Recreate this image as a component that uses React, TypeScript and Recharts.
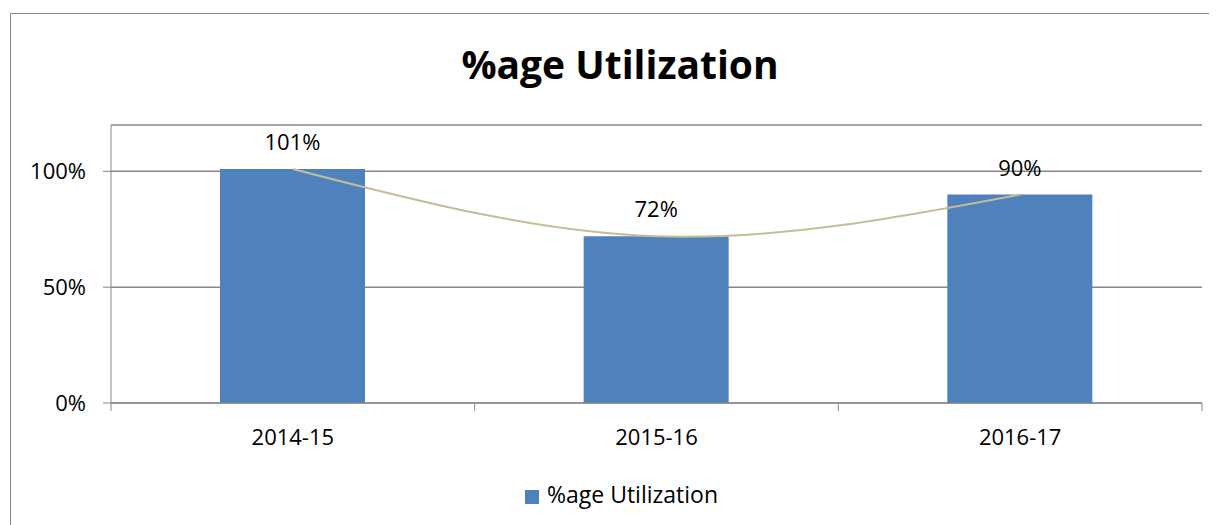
import {
  ComposedChart,
  Bar,
  Line,
  XAxis,
  YAxis,
  CartesianGrid,
  Legend,
  LabelList,
} from "recharts";

const years = ["2014-15", "2015-16", "2016-17"];
const utilization = [1.01, 0.72, 0.9];
const yTicks = [0, 0.5, 1];

const data = years.map((year, i) => ({ year, utilization: utilization[i] }));

const FONT = "'Open Sans', sans-serif";
const GRAY = "#868686";
const W = 1206;
const H = 511;
const margin = { top: 111, right: 15, left: 40, bottom: 13 };
const Y_AXIS_W = 60;
const band = (W - margin.left - Y_AXIS_W - margin.right) / years.length;

const pct = (v: number) => `${Math.round(v * 100)}%`;

// category label plus a tick mark on the category boundaries
const XTick = (props: any) => {
  const { x, y, payload, index } = props;
  const axisY = y - 26;
  return (
    <g>
      <line x1={x - band / 2} x2={x - band / 2} y1={axisY} y2={axisY + 8} stroke={GRAY} />
      {index === years.length - 1 && (
        <line x1={x + band / 2} x2={x + band / 2} y1={axisY} y2={axisY + 8} stroke={GRAY} />
      )}
      <text x={x} y={y} dy="0.71em" textAnchor="middle" fill="#000" fontSize={22} fontFamily={FONT}>
        {payload.value}
      </text>
    </g>
  );
};

const App = () => {
  return (
    <div
      style={{
        position: "relative",
        margin: "5px 0 0 2px",
        borderLeft: `1px solid ${GRAY}`,
        borderTop: `1px solid ${GRAY}`,
        width: W,
        height: H,
      }}
    >
      <div
        style={{
          position: "absolute",
          left: 0,
          top: 27,
          width: 1218,
          textAlign: "center",
          fontFamily: FONT,
          fontWeight: "bold",
          fontSize: 39,
          lineHeight: "46px",
          color: "#000",
        }}
      >
        %age Utilization
      </div>
      <ComposedChart width={W} height={H} data={data} margin={margin}>
        <CartesianGrid vertical={false} stroke={GRAY} strokeWidth={1.5} />
        <XAxis
          dataKey="year"
          stroke={GRAY}
          tickLine={false}
          tickSize={8}
          tickMargin={18}
          height={60}
          tick={<XTick />}
        />
        <YAxis
          domain={[0, 1.2]}
          ticks={yTicks}
          tickFormatter={pct}
          width={Y_AXIS_W}
          stroke={GRAY}
          tickSize={8}
          tickMargin={17}
          tick={{ fill: "#000", fontSize: 22, fontFamily: FONT }}
        />
        <Legend
          verticalAlign="bottom"
          height={34}
          iconType="square"
          iconSize={14}
          wrapperStyle={{ paddingTop: 15, fontFamily: FONT, fontSize: 23 }}
          formatter={(value) => <span style={{ color: "#000", marginLeft: 4 }}>{value}</span>}
        />
        <Bar
          dataKey="utilization"
          name="%age Utilization"
          fill="#4F81BD"
          barSize={145}
          isAnimationActive={false}
        >
          <LabelList
            dataKey="utilization"
            position="top"
            offset={19}
            formatter={(v: any) => pct(Number(v))}
            fill="#000"
            fontSize={22}
            fontFamily={FONT}
          />
        </Bar>
        <Line
          dataKey="utilization"
          type="natural"
          stroke="#C6BD95"
          strokeWidth={2}
          dot={false}
          activeDot={false}
          legendType="none"
          isAnimationActive={false}
        />
      </ComposedChart>
    </div>
  );
};

export default App;
